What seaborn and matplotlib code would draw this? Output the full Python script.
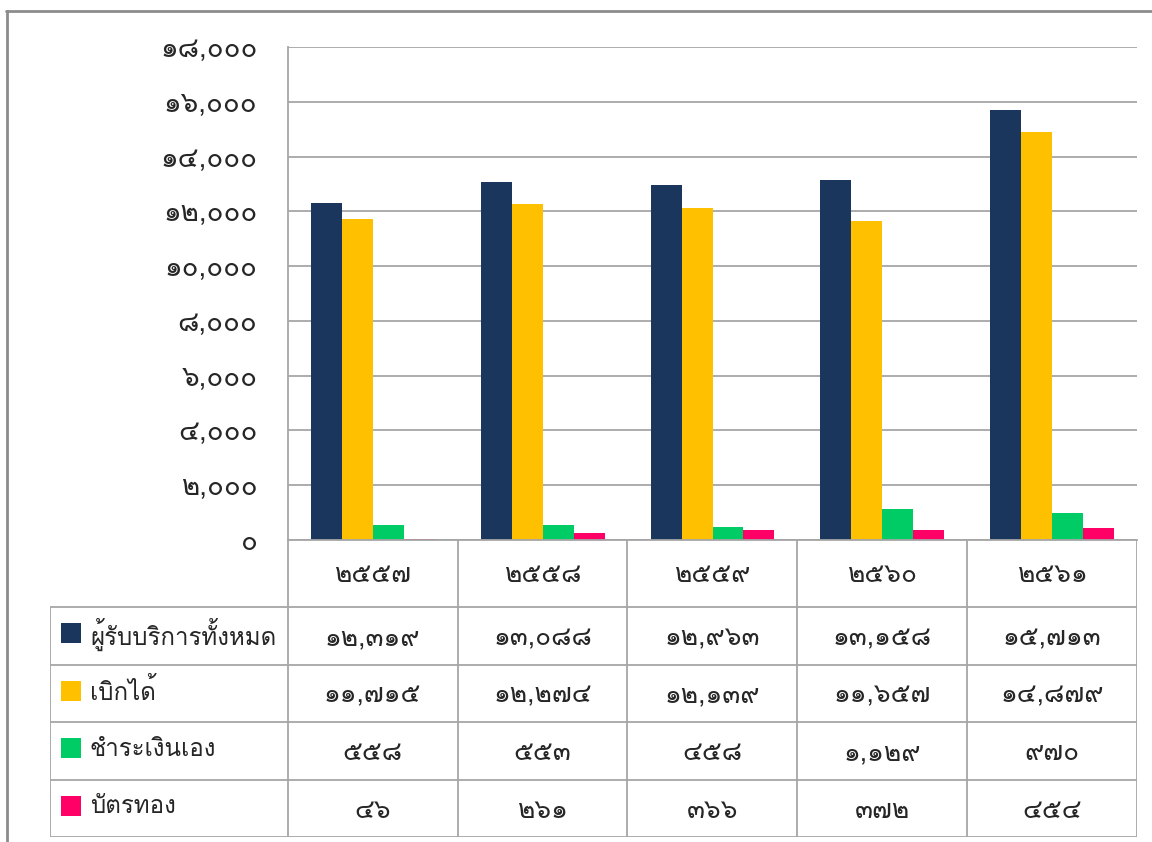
import numpy as np
import pandas as pd
import seaborn as sns
import matplotlib
matplotlib.use("Agg")
import matplotlib.pyplot as plt
from matplotlib import font_manager
from matplotlib.lines import Line2D

# data (Buddhist-era years)
years = ["2557", "2558", "2559", "2560", "2561"]
series = ["ผู้รับบริการทั้งหมด", "เบิกได้", "ชำระเงินเอง", "บัตรทอง"]
total = [12319, 13088, 12963, 13158, 15713]
reimburse = [11715, 12274, 12139, 11657, 14879]
self_pay = [558, 553, 458, 1129, 970]
gold_card = [46, 261, 366, 372, 454]
colors = ["#1b365d", "#ffc000", "#00cc66", "#ff0066"]
yticks = [0, 2000, 4000, 6000, 8000, 10000, 12000, 14000, 16000, 18000]

THAI = str.maketrans("0123456789", "๐๑๒๓๔๕๖๗๘๙")


def thai_num(v):
    return f"{v:,}".translate(THAI)


# look for an installed font with Thai glyphs
def find_thai_font():
    try:
        from fontTools.ttLib import TTFont
    except Exception:
        return None
    found = []
    for f in font_manager.fontManager.ttflist:
        try:
            tt = TTFont(f.fname, fontNumber=0, lazy=True)
            cmap = tt.getBestCmap()
            if cmap and 0x0E1C in cmap and 0x0E51 in cmap:
                found.append(f.name)
        except Exception:
            pass
    return found[0] if found else None


sns.set_theme(style="white")
thai_font = find_thai_font()
fams = ([thai_font] if thai_font else []) + ["DejaVu Sans"]
plt.rcParams["font.family"] = fams

df = pd.DataFrame({
    "year": years * 4,
    "series": np.repeat(series, 5),
    "value": total + reimburse + self_pay + gold_card,
})

W, H = 1152, 842
fig = plt.figure(figsize=(W / 100, H / 100), dpi=100)

# bar chart area
ax = fig.add_axes([288 / W, 1 - 540 / H, (1137 - 288) / W, (540 - 47) / H])
sns.barplot(data=df, x="year", y="value", hue="series", hue_order=series,
            palette=dict(zip(series, colors)), saturation=1, width=0.73,
            linewidth=0, legend=False, ax=ax)
ax.set_xlim(-0.5, 4.5)
ax.set_ylim(0, 18000)
ax.set_yticks(yticks)
ax.set_yticklabels([thai_num(t) for t in yticks], fontsize=20)
ax.set_xticks([])
ax.set_xlabel("")
ax.set_ylabel("")
ax.tick_params(axis="y", length=0, pad=22)
ax.yaxis.grid(True, color="#a6a6a6", lw=1.3)
ax.set_axisbelow(True)
for s in ["top", "right"]:
    ax.spines[s].set_visible(False)
for s in ["left", "bottom"]:
    ax.spines[s].set_color("#a6a6a6")
    ax.spines[s].set_linewidth(1.3)

# data table under the chart
legw = 238 / 170
tab = fig.add_axes([50 / W, 1 - 837 / H, (1137 - 50) / W, (837 - 539) / H])
tab.set_xlim(-0.5 - legw, 4.5)
tab.set_ylim(298, 0)
tab.axis("off")
rows = [0, 68, 126, 183, 241, 298]
lc = "#a6a6a6"
bounds = np.arange(-0.5, 5.0, 1.0)
tab.vlines(bounds, 0, 298, color=lc, lw=1.3)
tab.vlines(-0.5 - legw, 68, 298, color=lc, lw=1.3)
tab.hlines(rows[1:], -0.5 - legw, 4.5, color=lc, lw=1.3)
for i, y in enumerate(years):
    tab.text(i, 36, y.translate(THAI), ha="center", va="center", fontsize=19)
for r, (name, vals, c) in enumerate(zip(series, [total, reimburse, self_pay, gold_card], colors)):
    yc = (rows[r + 1] + rows[r + 2]) / 2
    tab.scatter([-0.5 - legw + 21 / 170], [yc - 3], marker="s", s=210, color=c, linewidths=0)
    tab.text(-0.5 - legw + 40 / 170, yc - 2, name, ha="left", va="center", fontsize=17.3)
    for i, v in enumerate(vals):
        tab.text(i, yc + 2, thai_num(v), ha="center", va="center", fontsize=19)

# outer frame of the original slide
fig.add_artist(Line2D([6 / W, 1], [1 - 11 / H, 1 - 11 / H], color="#8c8c8c", lw=2))
fig.add_artist(Line2D([7 / W, 7 / W], [0, 1 - 11 / H], color="#8c8c8c", lw=2))

fig.savefig("out.png", dpi=100)
